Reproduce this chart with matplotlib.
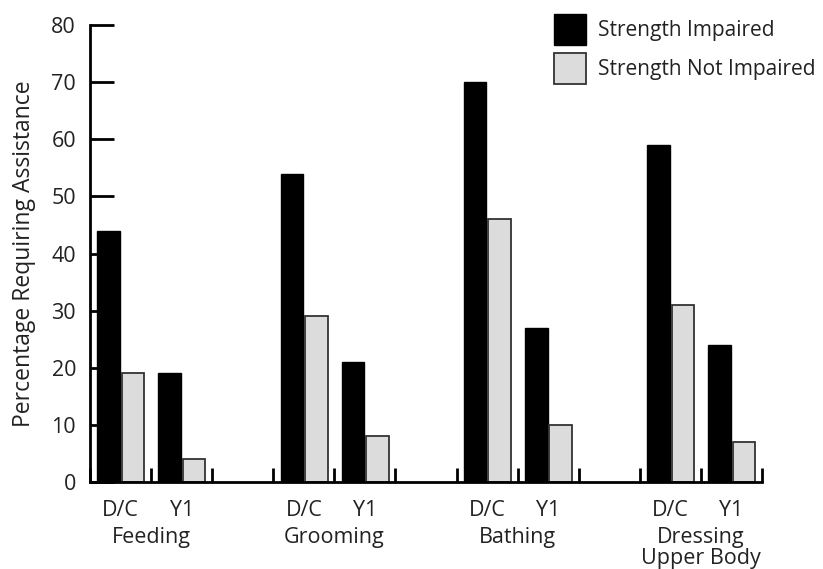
import matplotlib.pyplot as plt
from matplotlib.patches import Patch
import numpy as np

plt.rcParams['font.family'] = ['Open Sans', 'DejaVu Sans']

# Daten
kategorien = ['Feeding', 'Grooming', 'Bathing', 'Dressing\nUpper Body']
zeitpunkte = ['D/C', 'Y1']
impaired = [[44, 19], [54, 21], [70, 27], [59, 24]]
not_impaired = [[19, 4], [29, 8], [46, 10], [31, 7]]
y_ticks = [0, 10, 20, 30, 40, 50, 60, 70, 80]

textfarbe = '#222222'
grau = '#dcdcdc'

fig = plt.figure(figsize=(8.23, 5.69), dpi=100)
ax = fig.add_axes([90 / 823, 1 - 482 / 569, 672 / 823, 457 / 569])

# Balken: jede Kategorie belegt 3 Plaetze (D/C, Y1, leer)
breite = 0.37
label_pos = []
label_txt = []
for i, kat in enumerate(kategorien):
    for j, zp in enumerate(zeitpunkte):
        x0 = 3 * i + j
        ax.bar(x0 + 0.305, impaired[i][j], breite, color='black', edgecolor='black', linewidth=1)
        ax.bar(x0 + 0.705, not_impaired[i][j], breite, color=grau, edgecolor='#333333', linewidth=1.3)
        label_pos.append(x0 + 0.5)
        label_txt.append(zp)
    ax.text(3 * i + 1.0, -0.099, kat, transform=ax.get_xaxis_transform(),
            ha='center', va='top', fontsize=15.5, color=textfarbe, linespacing=1.0)

# Achsen
ax.set_xlim(0, 11)
ax.set_ylim(0, 80)
ax.set_yticks(y_ticks)
ax.set_xticks(label_pos)
ax.set_xticklabels(label_txt)
ax.set_xticks(np.arange(0, 12), minor=True)
ax.tick_params(axis='x', which='major', length=0, pad=13, labelsize=15.5, labelcolor=textfarbe)
ax.tick_params(axis='x', which='minor', direction='in', length=10, width=2, color='black')
ax.tick_params(axis='y', direction='in', length=17, width=2, pad=10, labelsize=15.5, labelcolor=textfarbe)
for s in ['top', 'right']:
    ax.spines[s].set_visible(False)
for s in ['left', 'bottom']:
    ax.spines[s].set_linewidth(2)
ax.set_ylabel('Percentage Requiring Assistance', fontsize=16.5, color=textfarbe, labelpad=11)

# Legende
handles = [Patch(facecolor='black', edgecolor='black', label='Strength Impaired'),
           Patch(facecolor=grau, edgecolor='#333333', linewidth=1.3, label='Strength Not Impaired')]
fig.legend(handles=handles, loc='upper left', bbox_to_anchor=(535 / 823, 1 + 5 / 569),
           frameon=False, fontsize=15, handlelength=1.55, handleheight=1.9,
           handletextpad=0.55, labelspacing=0.4, labelcolor=textfarbe)

plt.savefig('out.png', dpi=100)
